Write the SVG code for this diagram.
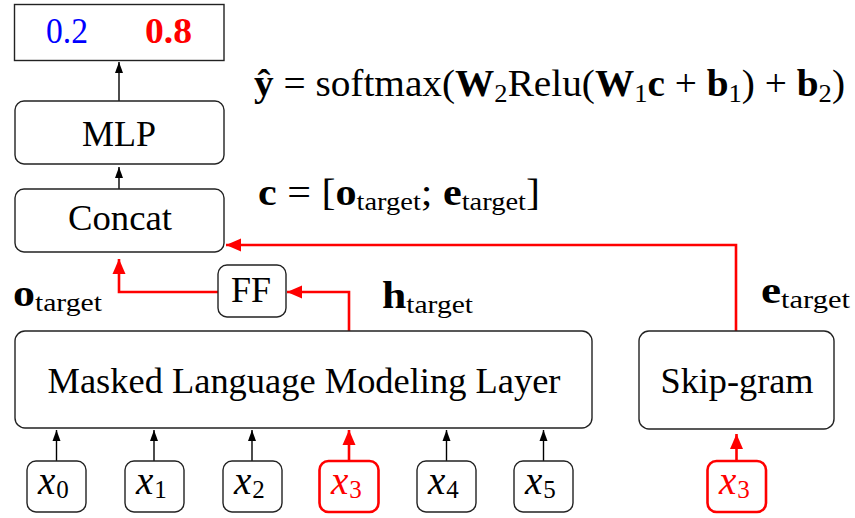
<svg xmlns="http://www.w3.org/2000/svg" width="855" height="518" viewBox="0 0 855 518">
<style>
text{font-family:"Liberation Serif","DejaVu Serif",serif;fill:#000}
.lbl{font-size:36px;text-anchor:middle}
.m{font-size:37px}
.xi{font-size:39px;font-style:italic}
.b{font-weight:bold}
.s{font-size:25px}
.box{fill:#fff;stroke:#222;stroke-width:1.4}
.rbox{fill:#fff;stroke:#f00;stroke-width:2.6}
.blk{stroke:#000;stroke-width:1.4;fill:none}
.red{stroke:#f00;stroke-width:2.6;fill:none}
</style>
<defs>
<marker id="ab" markerUnits="userSpaceOnUse" markerWidth="12" markerHeight="10" refX="11" refY="5" orient="auto"><path d="M0,1 L11,5 L0,9 Z" fill="#000"/></marker>
<marker id="ar" markerUnits="userSpaceOnUse" markerWidth="16" markerHeight="14" refX="15" refY="7" orient="auto"><path d="M0,0.5 L15,7 L0,13.5 Z" fill="#f00"/></marker>
</defs>
<g id="connectors">
<line class="blk" x1="119" y1="101" x2="119" y2="62" marker-end="url(#ab)"/>
<line class="blk" x1="119" y1="189" x2="119" y2="167" marker-end="url(#ab)"/>
<path class="red" d="M736,331 V245 H226" marker-end="url(#ar)"/>
<path class="red" d="M349,331 V292 H287" marker-end="url(#ar)"/>
<path class="red" d="M218,292 H119 V259" marker-end="url(#ar)"/>
<line class="blk" x1="56.5" y1="461" x2="56.5" y2="430" marker-end="url(#ab)"/>
<line class="blk" x1="154" y1="461" x2="154" y2="430" marker-end="url(#ab)"/>
<line class="blk" x1="252" y1="461" x2="252" y2="430" marker-end="url(#ab)"/>
<line class="red" x1="349" y1="460" x2="349" y2="430" marker-end="url(#ar)"/>
<line class="blk" x1="446.5" y1="461" x2="446.5" y2="430" marker-end="url(#ab)"/>
<line class="blk" x1="543.5" y1="461" x2="543.5" y2="430" marker-end="url(#ab)"/>
<line class="red" x1="736.5" y1="460" x2="736.5" y2="434" marker-end="url(#ar)"/>
</g>
<g id="output">
<rect class="box" x="14.5" y="4.5" width="209.5" height="56"/>
<text class="lbl" x="67" y="43" style="fill:#0000ff" textLength="42" lengthAdjust="spacingAndGlyphs">0.2</text>
<text class="lbl b" x="168.5" y="43" style="fill:#ff0000" textLength="47" lengthAdjust="spacingAndGlyphs">0.8</text>
</g>
<g id="mlp">
<rect class="box" x="15" y="101" width="209" height="63" rx="9"/>
<text class="lbl" x="119" y="146" textLength="74" lengthAdjust="spacingAndGlyphs">MLP</text>
</g>
<g id="concat">
<rect class="box" x="15" y="189" width="209" height="63" rx="9"/>
<text class="lbl" x="120" y="230" textLength="104" lengthAdjust="spacingAndGlyphs">Concat</text>
</g>
<g id="ff">
<rect class="box" x="218" y="265" width="68" height="52" rx="9"/>
<text class="lbl" x="251" y="302" textLength="40" lengthAdjust="spacingAndGlyphs">FF</text>
</g>
<g id="mlm">
<rect class="box" x="15" y="331" width="577" height="97" rx="10"/>
<text class="lbl" x="304" y="393" textLength="513" lengthAdjust="spacingAndGlyphs">Masked Language Modeling Layer</text>
</g>
<g id="skipgram">
<rect class="box" x="639" y="331" width="195" height="98" rx="10"/>
<text class="lbl" x="737" y="393" textLength="153" lengthAdjust="spacingAndGlyphs">Skip-gram</text>
</g>
<g id="x0"><rect class="box" x="27" y="461" width="59" height="51" rx="9"/><text x="38" y="494"><tspan class="xi">x</tspan><tspan class="s" dx="1" dy="4">0</tspan></text></g>
<g id="x1"><rect class="box" x="125" y="461" width="59" height="51" rx="9"/><text x="136" y="494"><tspan class="xi">x</tspan><tspan class="s" dx="1" dy="4">1</tspan></text></g>
<g id="x2"><rect class="box" x="223" y="461" width="59" height="51" rx="9"/><text x="234" y="494"><tspan class="xi">x</tspan><tspan class="s" dx="1" dy="4">2</tspan></text></g>
<g id="x3"><rect class="rbox" x="319.5" y="461" width="59" height="51" rx="9"/><text x="331" y="494" style="fill:#f00"><tspan class="xi">x</tspan><tspan class="s" dx="1" dy="4">3</tspan></text></g>
<g id="x4"><rect class="box" x="417" y="461" width="59" height="51" rx="9"/><text x="428" y="494"><tspan class="xi">x</tspan><tspan class="s" dx="1" dy="4">4</tspan></text></g>
<g id="x5"><rect class="box" x="514" y="461" width="59" height="51" rx="9"/><text x="525" y="494"><tspan class="xi">x</tspan><tspan class="s" dx="1" dy="4">5</tspan></text></g>
<g id="x3b"><rect class="rbox" x="707.5" y="461" width="58.5" height="51" rx="9"/><text x="719" y="494" style="fill:#f00"><tspan class="xi">x</tspan><tspan class="s" dx="1" dy="4">3</tspan></text></g>
<g id="labels">
<text x="13" y="306" textLength="89" lengthAdjust="spacingAndGlyphs"><tspan class="m b">o</tspan><tspan class="s" dy="5">target</tspan></text>
<text x="382" y="308" textLength="91" lengthAdjust="spacingAndGlyphs"><tspan class="m b">h</tspan><tspan class="s" dy="5">target</tspan></text>
<text x="761" y="303" textLength="89" lengthAdjust="spacingAndGlyphs"><tspan class="m b">e</tspan><tspan class="s" dy="5">target</tspan></text>
</g>
<g id="formulas">
<text x="254" y="96" class="m" textLength="591" lengthAdjust="spacingAndGlyphs"><tspan class="b">ŷ</tspan> = softmax(<tspan class="b">W</tspan><tspan class="s" dy="6">2</tspan><tspan dy="-6">Relu(</tspan><tspan class="b">W</tspan><tspan class="s" dy="6">1</tspan><tspan class="b" dy="-6">c</tspan> + <tspan class="b">b</tspan><tspan class="s" dy="6">1</tspan><tspan dy="-6">) + </tspan><tspan class="b">b</tspan><tspan class="s" dy="6">2</tspan><tspan dy="-6">)</tspan></text>
<text x="258" y="205" class="m" textLength="282" lengthAdjust="spacingAndGlyphs"><tspan class="b">c</tspan> = [<tspan class="b">o</tspan><tspan class="s" dy="5">target</tspan><tspan dy="-5">; </tspan><tspan class="b">e</tspan><tspan class="s" dy="5">target</tspan><tspan dy="-5">]</tspan></text>
</g>
</svg>
